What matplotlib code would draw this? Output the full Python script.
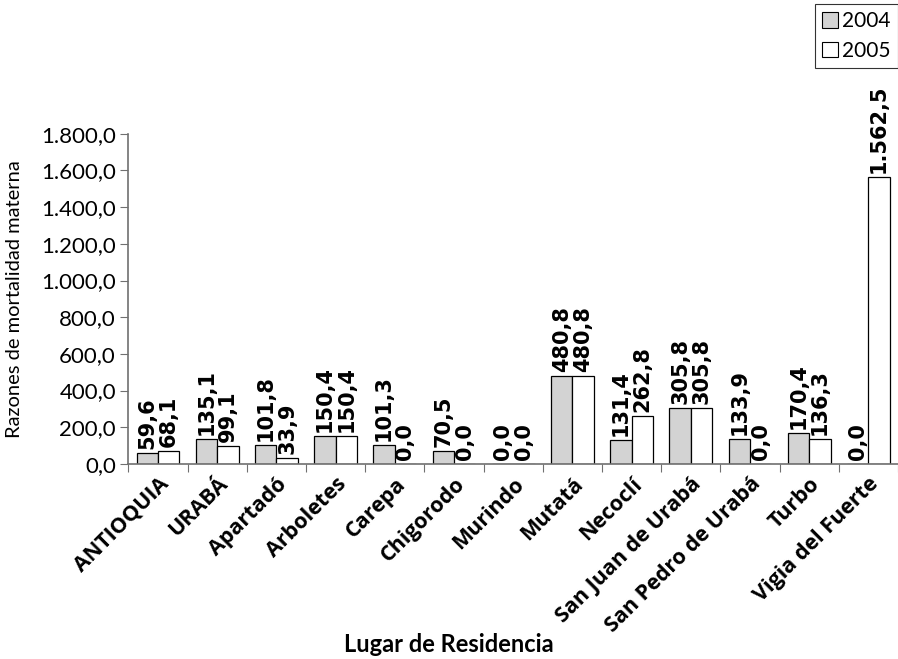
import matplotlib
matplotlib.use("Agg")
import matplotlib.pyplot as plt
from matplotlib.patches import Patch
import numpy as np

lugares = ["ANTIOQUIA", "URABÁ", "Apartadó", "Arboletes", "Carepa", "Chigorodo",
           "Murindo", "Mutatá", "Necoclí", "San Juan de Urabá", "San Pedro de Urabá",
           "Turbo", "Vigia del Fuerte"]
rmm_2004 = [59.6, 135.1, 101.8, 150.4, 101.3, 70.5, 0.0, 480.8, 131.4, 305.8, 133.9, 170.4, 0.0]
rmm_2005 = [68.1, 99.1, 33.9, 150.4, 0.0, 0.0, 0.0, 480.8, 262.8, 305.8, 0.0, 136.3, 1562.5]
yticks = [0, 200, 400, 600, 800, 1000, 1200, 1400, 1600, 1800]


def fmt_es(v):
    s = f"{v:,.1f}"
    return s.replace(",", "X").replace(".", ",").replace("X", ".")


fig = plt.figure(figsize=(8.98, 6.59), dpi=100)
ax = fig.add_axes([0.143, 0.296, 0.857, 0.501])

x = np.arange(len(lugares))
w = 0.36
b1 = ax.bar(x - w / 2, rmm_2004, w, color="#d3d3d3", edgecolor="black", linewidth=0.9, label="2004")
b2 = ax.bar(x + w / 2, rmm_2005, w, color="white", edgecolor="black", linewidth=0.9, label="2005")

for bars, vals in ((b1, rmm_2004), (b2, rmm_2005)):
    for r, v in zip(bars, vals):
        ax.annotate(fmt_es(v), (r.get_x() + r.get_width() / 2, v),
                    xytext=(0, 3), textcoords="offset points",
                    rotation=90, ha="center", va="bottom",
                    fontsize=15, fontweight="bold", family="DejaVu Sans")

ax.set_xlim(-0.5, len(lugares) - 0.5)
ax.set_ylim(0, 1800)
ax.set_yticks(yticks)
ax.set_yticklabels([fmt_es(v) for v in yticks], family="Lato", fontsize=16)

# boundary ticks between categories, labels at category centres
ax.set_xticks(np.arange(len(lugares) + 1) - 0.5)
ax.set_xticklabels([])
ax.set_xticks(x, minor=True)
ax.set_xticklabels(lugares, minor=True, rotation=45, ha="right", va="top",
                   rotation_mode="anchor", family="Open Sans",
                   fontweight="bold", fontsize=15.5)
ax.tick_params(axis="x", which="minor", length=0, pad=7)
ax.tick_params(axis="x", which="major", length=6, color="#707070", direction="out")
ax.tick_params(axis="y", length=6, color="#707070", direction="out", pad=3)

for s in ("top", "right"):
    ax.spines[s].set_visible(False)
for s in ("left", "bottom"):
    ax.spines[s].set_color("#707070")
    ax.spines[s].set_linewidth(1.2)

ax.set_ylabel("Razones de mortalidad materna", family="Lato", fontsize=14.5, labelpad=13)
fig.text(0.5, 0.022, "Lugar de Residencia", ha="center", va="center",
         family="Lato", fontweight="bold", fontsize=17)

handles = [Patch(facecolor="#d3d3d3", edgecolor="black", linewidth=0.8),
           Patch(facecolor="white", edgecolor="black", linewidth=0.8)]
leg = fig.legend(handles, ["2004", "2005"], loc="upper right",
                 bbox_to_anchor=(1.0, 0.994), frameon=True, fancybox=False,
                 prop={"family": "Lato", "size": 15}, handlelength=0.75,
                 handleheight=0.75, handletextpad=0.2, borderpad=0.35,
                 labelspacing=0.45, borderaxespad=0)
leg.get_frame().set_edgecolor("black")
leg.get_frame().set_linewidth(0.8)

fig.savefig("out.png", dpi=100)
